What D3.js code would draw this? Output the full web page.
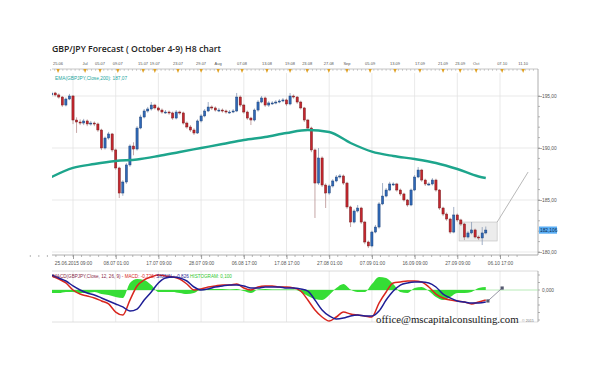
<!DOCTYPE html>
<html>
<head>
<meta charset="utf-8">
<script src="https://cdn.jsdelivr.net/npm/d3@7"></script>
<style>
body{margin:0;background:#fff}
svg{display:block}
</style>
</head>
<body>
<svg id="chart" width="600" height="368"></svg>
<script>
// GBP/JPY H8 candles (open = previous close)
const firstOpen = 195.10;
const closes = [195.29,195.10,194.90,194.13,194.71,195.00,192.69,192.50,192.40,192.60,
 192.31,192.40,192.31,191.73,190.00,190.96,191.35,189.81,188.08,185.67,
 186.73,188.37,190.19,189.90,191.92,192.98,193.56,193.75,194.13,193.85,
 193.65,193.46,193.46,193.37,192.88,193.46,193.37,192.40,192.02,191.73,
 191.44,192.60,193.08,193.56,193.94,193.85,193.65,193.65,193.56,193.46,
 193.46,193.56,194.90,194.13,193.46,192.88,192.69,193.65,194.42,194.81,
 194.13,194.33,194.33,194.42,194.52,194.62,194.23,195.00,194.90,194.42,
 193.85,192.69,191.92,189.81,186.63,189.04,186.44,185.67,186.35,186.83,
 187.21,187.31,186.63,184.33,182.88,183.94,184.23,182.88,180.96,180.58,
 181.92,182.40,184.62,185.38,185.96,186.54,186.54,185.96,185.58,185.00,
 184.52,185.96,187.21,187.88,186.92,186.54,186.54,186.92,185.96,184.23,
 183.65,183.17,181.92,183.56,183.08,182.69,181.44,181.83,182.12,181.44,
 181.35,181.83,182.11];
const highs = [195.45,195.40,195.25,195.00,194.85,195.20,195.10,192.95,192.75,192.80,
 192.75,192.60,192.55,192.45,191.85,191.10,191.55,191.45,189.95,188.20,
 186.90,188.55,190.35,190.55,192.10,193.20,193.75,193.95,194.42,194.25,
 194.00,193.80,193.65,193.60,193.50,193.65,193.60,193.50,192.55,192.20,
 191.90,192.75,193.25,193.75,194.42,194.10,194.00,193.85,193.80,193.70,
 193.65,193.75,195.29,195.05,194.25,193.60,193.00,193.80,194.60,195.00,
 194.95,194.50,194.50,194.60,194.70,194.80,194.75,195.29,195.15,195.00,
 194.55,193.95,192.80,192.05,189.95,190.00,189.20,186.60,186.50,187.00,
 187.40,187.50,187.45,186.75,184.45,184.10,184.52,184.35,183.00,181.10,
 182.05,182.60,184.80,186.63,186.15,186.75,186.70,186.65,186.10,185.70,
 185.10,186.10,187.40,188.17,188.00,187.05,186.70,187.10,187.05,186.05,
 184.35,183.80,183.30,184.33,183.70,183.20,182.80,182.00,182.88,182.25,
 181.60,182.40,182.45];
const lows = [194.95,194.95,194.75,193.95,194.00,194.60,192.30,191.45,192.20,192.20,
 192.10,192.15,192.10,191.55,189.80,189.85,190.80,189.60,187.90,185.19,
 185.40,186.55,188.20,189.30,189.75,191.80,192.85,193.40,193.60,193.70,
 193.50,193.30,193.30,193.20,192.70,192.75,193.20,192.25,191.85,191.55,
 191.25,191.35,192.45,192.95,193.45,193.65,193.50,193.45,193.40,193.30,
 193.30,193.35,193.45,193.95,193.30,192.70,192.21,192.55,193.50,194.30,
 193.95,193.95,194.15,194.20,194.30,194.40,194.05,194.10,194.75,194.25,
 193.70,192.50,191.75,189.60,183.27,186.45,186.25,184.23,185.50,186.20,
 186.70,187.05,186.45,184.15,182.40,182.75,183.80,182.70,180.75,180.38,
 180.45,181.80,182.25,184.50,185.25,185.85,186.35,185.80,185.40,184.85,
 184.35,184.40,185.85,187.10,186.75,186.35,186.35,186.40,185.80,184.05,
 183.45,183.00,181.75,181.80,182.90,182.50,181.15,181.30,181.70,181.30,
 181.15,180.67,181.70];

// EMA(200) read at some bar positions
const emaIdx = [0,6,12,18,24,30,36,42,48,54,60,66,72,78,84,90,96,102,108,114,120,122];
const emaVals = [187.21,188.08,188.46,188.75,188.90,189.23,189.62,190.00,190.38,190.77,191.06,
 191.44,191.73,191.54,190.48,189.65,189.23,188.94,188.56,187.98,187.26,187.12];

// MACD panel, read every second bar
const macdVals = [0.93,0.73,0.47,0.00,-0.27,-0.40,-0.53,-0.73,-0.93,-1.47,
 -1.67,-0.67,0.27,0.67,0.87,1.00,0.93,0.87,0.73,0.40,
 0.00,0.07,0.20,0.27,0.33,0.33,0.40,0.13,0.00,0.20,
 0.27,0.27,0.20,0.20,0.13,-0.07,-0.67,-1.33,-1.80,-2.07,
 -1.80,-1.47,-1.60,-1.67,-1.73,-1.80,-0.87,-0.13,0.47,0.53,
 0.60,0.60,0.53,0.20,-0.27,-0.53,-0.67,-0.73,-0.80,-0.93,
 -0.80,-0.67];
const signalVals = [1.00,0.80,0.60,0.27,0.00,-0.20,-0.33,-0.53,-0.73,-0.93,
 -1.13,-1.40,-1.27,-0.67,-0.13,0.47,0.80,0.87,0.80,0.60,
 0.20,0.00,0.07,0.20,0.27,0.33,0.33,0.27,0.13,0.13,
 0.20,0.20,0.20,0.13,0.13,0.07,-0.07,-0.67,-1.33,-1.73,
 -1.93,-1.87,-1.73,-1.67,-1.73,-1.73,-1.40,-0.67,-0.07,0.33,
 0.47,0.53,0.53,0.47,0.20,-0.27,-0.53,-0.73,-0.80,-0.87,
 -0.87,-0.80];
const histVals = [-0.20,-0.20,-0.13,-0.13,-0.20,-0.20,-0.13,-0.27,-0.33,-0.47,
 -0.53,0.47,0.73,0.67,0.33,-0.13,-0.13,-0.13,-0.20,-0.27,
 -0.20,0.03,0.07,0.07,0.07,0.03,0.07,-0.07,-0.20,0.03,
 0.07,0.03,0.03,0.03,0.03,-0.13,-0.40,-0.60,-0.67,-0.33,
 0.13,0.40,0.03,-0.13,-0.13,0.40,0.87,0.80,0.40,-0.13,
 -0.20,0.13,0.20,-0.07,-0.47,-0.67,-0.47,-0.20,-0.20,-0.13,
 0.13,0.20];

// axes
const bottomTickIdx = [6,18,30,42,54,66,78,90,102,114,126];
const bottomLabels = ["25.06.2015 09:00","08.07 01:00","17.07 09:00","28.07 09:00","06.08 17:00",
 "17.08 17:00","27.08 01:00","07.09 01:00","16.09 09:00","27.09 09:00","06.10 17:00"];
const topTickIdx = [1.8,9.4,13.6,18.6,25.7,29.0,35.5,42.0,46.8,53.5,60.5,67.0,71.8,77.9,83.0,89.5,96.5,103.5,110.0,114.8,119.3,126.6,132.5];
const topLabels = ["25.06","Jul","05.07","09.07","15.07","19.07","23.07","29.07","Aug","07.08","13.08","19.08",
 "23.08","27.08","Sep","05.09","13.09","17.09","21.09","23.09","Oct","07.10","11.10"];
const priceTicks = [195,190,185,180];
const priceLabels = ["195,00","190,00","185,00","180,00"];
const lastPrice = 182.106;

// drawn forecast box / lines
const boxIdx = [114.5,125.2], boxPrice = [181.06,182.88];
const trendIdx = [125.2,133.9], trendPrice = [182.88,187.69];
const macdTrendIdx = [122.6,126.6], macdTrendVals = [-0.73,0.13];

const L = 52, R = 538, stripY = 69, mainTop = 73, mainBottom = 255, mTop = 271, mBottom = 322;
const small = "'Liberation Sans', Arial, sans-serif";

const svg = d3.select("#chart");
const x = d3.scaleLinear().domain([6,126]).range([73,500]);
const y = d3.scaleLinear().domain([180,195]).range([252,96]);
const ym = d3.scaleLinear().domain([-2.2,1.3]).range([323,270.5]);

const defs = svg.append("defs");
defs.append("clipPath").attr("id","mainClip").append("rect")
  .attr("x",L).attr("y",mainTop).attr("width",R-L).attr("height",mainBottom-mainTop);
defs.append("clipPath").attr("id","macdClip").append("rect")
  .attr("x",L).attr("y",mTop).attr("width",R-L).attr("height",mBottom-mTop);

// title
svg.append("text").attr("x",52).attr("y",52)
  .attr("font-family","'Open Sans', sans-serif").attr("font-weight",600)
  .attr("font-size",8.7).attr("fill","#222")
  .text("GBP/JPY Forecast ( October 4-9) H8 chart");

// grid
const grid = svg.append("g").attr("stroke","#e3e3e3").attr("stroke-width",0.8);
grid.selectAll(".vg").data(bottomTickIdx.filter(d=>x(d)<R)).enter().append("line")
  .attr("x1",d=>x(d)).attr("x2",d=>x(d)).attr("y1",mainTop).attr("y2",mainBottom);
grid.selectAll(".vm").data(bottomTickIdx.filter(d=>x(d)<R)).enter().append("line")
  .attr("x1",d=>x(d)).attr("x2",d=>x(d)).attr("y1",mTop).attr("y2",mBottom);
grid.selectAll(".hg").data(priceTicks).enter().append("line")
  .attr("x1",L).attr("x2",R).attr("y1",d=>y(d)).attr("y2",d=>y(d));

// top time strip
const strip = svg.append("g");
strip.append("line").attr("x1",L).attr("x2",R).attr("y1",stripY).attr("y2",stripY)
  .attr("stroke","#b8b8b8").attr("stroke-width",0.8);
strip.selectAll(".mt").data(d3.range(-0.3,136,1.15)).enter().append("line")
  .attr("x1",d=>x(d)).attr("x2",d=>x(d)).attr("y1",stripY).attr("y2",stripY+1.8)
  .attr("stroke","#aaa").attr("stroke-width",0.6);
strip.selectAll(".om").data(topTickIdx).enter().append("path")
  .attr("d",d=>`M${x(d)-1.6},${stripY}L${x(d)+1.6},${stripY}L${x(d)},${stripY+4}Z`)
  .attr("fill","#e0a020");
strip.selectAll(".tl").data(topTickIdx).enter().append("text")
  .attr("x",d=>x(d)).attr("y",stripY-4).attr("text-anchor","middle")
  .attr("font-family",small).attr("font-size",4).attr("fill","#555")
  .text((d,i)=>topLabels[i]);

// right price axis
const yAxis = d3.axisRight(y).tickValues(priceTicks).tickSize(4)
  .tickFormat((d,i)=>priceLabels[i]);
const ya = svg.append("g").attr("transform",`translate(${R},0)`).call(yAxis);
ya.select(".domain").remove();
ya.selectAll("line").attr("stroke","#888").attr("stroke-width",0.7);
ya.selectAll("text").attr("font-family",small).attr("font-size",4.8).attr("fill","#555").attr("x",4);
svg.append("g").selectAll("line").data(d3.range(180,196,1)).enter().append("line")
  .attr("x1",R).attr("x2",R+2).attr("y1",d=>y(d)).attr("y2",d=>y(d))
  .attr("stroke","#888").attr("stroke-width",0.6);
svg.append("line").attr("x1",R).attr("x2",R).attr("y1",stripY).attr("y2",mainBottom)
  .attr("stroke","#999").attr("stroke-width",0.8);

// bottom time axis
const xAxis = d3.axisBottom(x).tickValues(bottomTickIdx).tickSize(4)
  .tickFormat((d,i)=>bottomLabels[i]);
const xa = svg.append("g").attr("transform",`translate(0,${mainBottom})`).call(xAxis);
xa.select(".domain").remove();
xa.selectAll("line").attr("stroke","#777").attr("stroke-width",0.7);
xa.selectAll("text").attr("font-family",small).attr("font-size",4.8).attr("fill","#555").attr("y",7);
svg.append("g").selectAll("line").data(d3.range(-6,133,2.4)).enter().append("line")
  .attr("x1",d=>x(d)).attr("x2",d=>x(d)).attr("y1",mainBottom).attr("y2",mainBottom+2)
  .attr("stroke","#888").attr("stroke-width",0.6);
svg.append("line").attr("x1",L).attr("x2",R).attr("y1",mainBottom).attr("y2",mainBottom)
  .attr("stroke","#999").attr("stroke-width",0.8);

// main plot
const main = svg.append("g").attr("clip-path","url(#mainClip)");

// forecast box under candles
main.append("rect")
  .attr("x",x(boxIdx[0])).attr("width",x(boxIdx[1])-x(boxIdx[0]))
  .attr("y",y(boxPrice[1])).attr("height",y(boxPrice[0])-y(boxPrice[1]))
  .attr("fill","#ececec").attr("stroke","#c4c4c4").attr("stroke-width",0.7);
main.append("line")
  .attr("x1",x(trendIdx[0])).attr("y1",y(trendPrice[0]))
  .attr("x2",x(trendIdx[1])).attr("y2",y(trendPrice[1]))
  .attr("stroke","#b0b0b0").attr("stroke-width",0.9);

const candles = closes.map((c,i)=>({i:i, o:i ? closes[i-1] : firstOpen, c:c, h:highs[i], l:lows[i]}));
const up = d=>d.c>=d.o;
main.selectAll(".wick").data(candles).enter().append("line")
  .attr("x1",d=>x(d.i)).attr("x2",d=>x(d.i))
  .attr("y1",d=>y(d.h)).attr("y2",d=>y(d.l))
  .attr("stroke",d=>up(d) ? "#8a9cb8" : "#b89090").attr("stroke-width",0.8);
main.selectAll(".body").data(candles).enter().append("rect")
  .attr("x",d=>x(d.i)-1.1).attr("width",2.2)
  .attr("y",d=>y(Math.max(d.o,d.c)))
  .attr("height",d=>Math.max(1,Math.abs(y(d.o)-y(d.c))))
  .attr("fill",d=>up(d) ? "#2f68b6" : "#c4262e")
  .attr("stroke",d=>up(d) ? "#1d3f73" : "#6e1a1c").attr("stroke-width",0.45);

// EMA 200
main.append("path")
  .datum(emaIdx.map((d,i)=>[d,emaVals[i]]))
  .attr("d",d3.line().x(d=>x(d[0])).y(d=>y(d[1])).curve(d3.curveMonotoneX))
  .attr("fill","none").attr("stroke","#1da58c").attr("stroke-width",2.4);

svg.append("text").attr("x",55).attr("y",80)
  .attr("font-family",small).attr("font-size",4.8).attr("fill","#22a6a0")
  .text("EMA(GBPJPY,Close,200): 187,07");

// last price tag
svg.append("rect").attr("x",R+1).attr("y",y(lastPrice)-3.6).attr("width",18).attr("height",7.2)
  .attr("fill","#5aaef5");
svg.append("text").attr("x",R+2).attr("y",y(lastPrice)+1.8)
  .attr("font-family",small).attr("font-size",4.8).attr("fill","#0b2a4e")
  .text("182,106");

// MACD panel
svg.append("line").attr("x1",L).attr("x2",R).attr("y1",mTop).attr("y2",mTop)
  .attr("stroke","#d0d0d0").attr("stroke-width",0.8);
svg.append("line").attr("x1",L).attr("x2",R).attr("y1",mBottom).attr("y2",mBottom)
  .attr("stroke","#d8d8d8").attr("stroke-width",0.8);
svg.append("line").attr("x1",R).attr("x2",R).attr("y1",mTop).attr("y2",mBottom)
  .attr("stroke","#999").attr("stroke-width",0.8);
svg.append("g").selectAll("line").data(d3.range(-2,1.3,0.5)).enter().append("line")
  .attr("x1",R).attr("x2",R+2).attr("y1",d=>ym(d)).attr("y2",d=>ym(d))
  .attr("stroke","#888").attr("stroke-width",0.6);
svg.append("text").attr("x",R+4).attr("y",ym(0)+1.7)
  .attr("font-family",small).attr("font-size",4.8).attr("fill","#555").text("0,000");

const macd = svg.append("g").attr("clip-path","url(#macdClip)");
const mIdx = d3.range(0,123,2);
macd.append("line").attr("x1",L).attr("x2",R).attr("y1",ym(0)).attr("y2",ym(0))
  .attr("stroke","#a6e6a6").attr("stroke-width",0.8);
macd.append("path").datum(histVals)
  .attr("d",d3.area().x((d,i)=>x(mIdx[i])).y0(ym(0)).y1(d=>ym(d)).curve(d3.curveMonotoneX))
  .attr("fill","#35dd35");
const mline = d3.line().x((d,i)=>x(mIdx[i])).y(d=>ym(d)).curve(d3.curveMonotoneX);
macd.append("path").datum(macdVals).attr("d",mline)
  .attr("fill","none").attr("stroke","#d8261e").attr("stroke-width",1.5);
macd.append("path").datum(signalVals).attr("d",mline)
  .attr("fill","none").attr("stroke","#1e1e96").attr("stroke-width",1.5);

// drawn line in MACD panel
macd.append("line")
  .attr("x1",x(macdTrendIdx[0])).attr("y1",ym(macdTrendVals[0]))
  .attr("x2",x(macdTrendIdx[1])).attr("y2",ym(macdTrendVals[1]))
  .attr("stroke","#8a8a9a").attr("stroke-width",0.9);
macd.selectAll(".sq").data(macdTrendIdx).enter().append("rect")
  .attr("x",d=>x(d)-1.6).attr("y",(d,i)=>ym(macdTrendVals[i])-1.6)
  .attr("width",3.2).attr("height",3.2)
  .attr("fill","#555a70");

const hdr = svg.append("text").attr("x",53).attr("y",277.5)
  .attr("font-family",small).attr("font-size",4.6);
hdr.append("tspan").attr("fill","#8a2b4a").text("MACD(GBPJPY,Close, 12, 26, 9) - ");
hdr.append("tspan").attr("fill","#d8261e").text("MACD: -0,726, ");
hdr.append("tspan").attr("fill","#1e1e96").text("SIGNAL: -0,826 ");
hdr.append("tspan").attr("fill","#2ec82e").text(" HISTOGRAM: 0,100");

// watermark
svg.append("text").attr("x",376).attr("y",323)
  .attr("font-family","'Liberation Serif', 'DejaVu Serif', serif").attr("font-size",10.8)
  .attr("fill","#1a1a1a").text("office@mscapitalconsulting.com");
svg.append("text").attr("x",522).attr("y",322)
  .attr("font-family",small).attr("font-size",3.6).attr("fill","#777").text("© 2015");
</script>
</body>
</html>
